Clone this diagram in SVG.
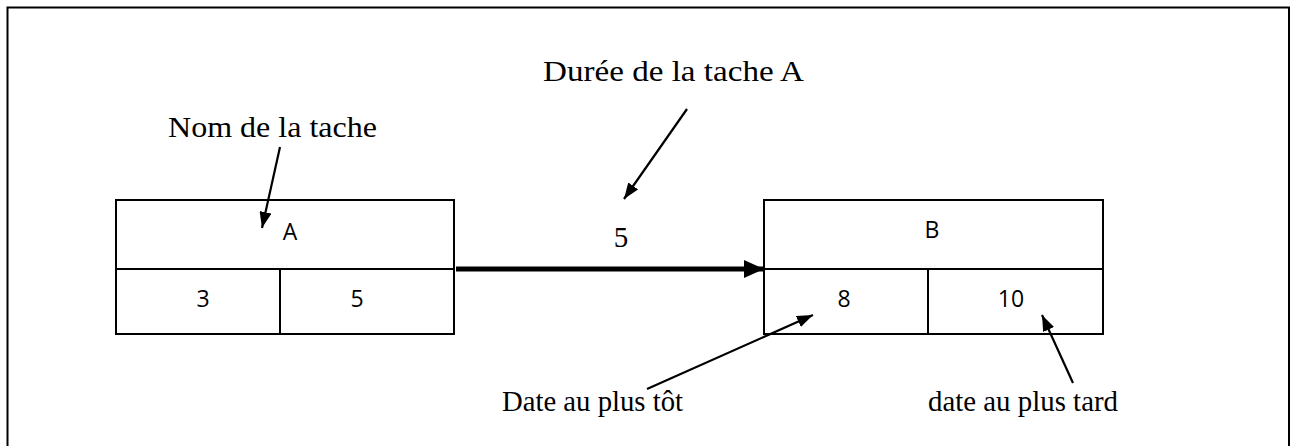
<svg xmlns="http://www.w3.org/2000/svg" width="1296" height="446" viewBox="0 0 1296 446">
<style>
.box{fill:#fff;stroke:#000;stroke-width:2}
.div{stroke:#000;stroke-width:2;fill:none}
.sans{font-family:"Open Sans","Liberation Sans",sans-serif;font-size:23px;fill:#000;text-anchor:middle}
.serif{font-family:"Liberation Serif","Times New Roman",serif;font-size:29px;fill:#000}
.thin{stroke:#000;stroke-width:2.2;fill:none;marker-end:url(#ah)}
.thick{stroke:#000;stroke-width:5;fill:none;marker-end:url(#ahb)}
</style>
<defs>
<marker id="ah" markerUnits="userSpaceOnUse" viewBox="0 0 16 12" refX="16" refY="6" markerWidth="16" markerHeight="12" orient="auto"><path d="M0,0 L16,6 L0,12 Z" fill="#000"/></marker>
<marker id="ahb" markerUnits="userSpaceOnUse" viewBox="0 0 20 18" refX="20" refY="9" markerWidth="20" markerHeight="18" orient="auto"><path d="M0,0 L20,9 L0,18 Z" fill="#000"/></marker>
</defs>
<rect width="1296" height="446" fill="#fff"/>
<path d="M7.5,446 V7.5 H1289 V446" fill="none" stroke="#000" stroke-width="2"/>
<g id="nodeA">
<rect class="box" x="116" y="200" width="338" height="134"/>
<line class="div" x1="116" y1="269" x2="454" y2="269"/>
<line class="div" x1="280" y1="269" x2="280" y2="334"/>
<text class="sans" x="290" y="240">A</text>
<text class="sans" x="203" y="307">3</text>
<text class="sans" x="357" y="307">5</text>
</g>
<g id="nodeB">
<rect class="box" x="764" y="200" width="339" height="134"/>
<line class="div" x1="764" y1="269" x2="1103" y2="269"/>
<line class="div" x1="928" y1="269" x2="928" y2="334"/>
<text class="sans" x="932" y="238">B</text>
<text class="sans" x="844" y="307">8</text>
<text class="sans" x="1011" y="307">10</text>
</g>
<g id="connectors">
<line class="thick" x1="456" y1="269" x2="764" y2="269"/>
<line class="thin" x1="687" y1="109" x2="624" y2="199"/>
<line class="thin" x1="280" y1="147" x2="262" y2="228"/>
<line class="thin" x1="647" y1="389" x2="813" y2="315"/>
<line class="thin" x1="1073" y1="383" x2="1042" y2="315"/>
</g>
<g id="labels">
<text class="serif" x="543" y="81" textLength="261" lengthAdjust="spacingAndGlyphs">Durée de la tache A</text>
<text class="serif" x="168" y="137" textLength="209" lengthAdjust="spacingAndGlyphs">Nom de la tache</text>
<text class="serif" x="621" y="247" text-anchor="middle">5</text>
<text class="serif" x="502" y="411" textLength="181" lengthAdjust="spacingAndGlyphs">Date au plus tôt</text>
<text class="serif" x="928" y="411" textLength="190" lengthAdjust="spacingAndGlyphs">date au plus tard</text>
</g>
</svg>
